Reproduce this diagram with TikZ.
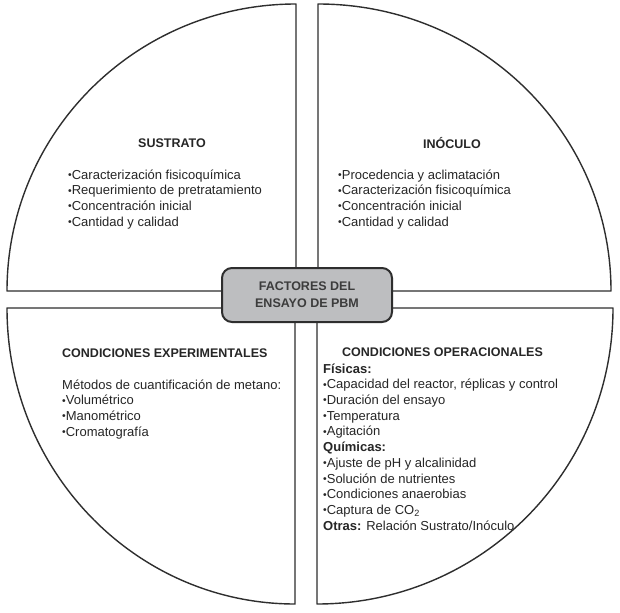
\documentclass[tikz,border=0pt]{standalone}
\usepackage{fontspec}
\setmainfont{Liberation Sans}
\usepackage{graphicx}
\definecolor{linec}{HTML}{2E2E2E}
\definecolor{boxc}{HTML}{BDBEC0}
\definecolor{textc}{HTML}{262626}
\newcommand{\bul}{\raisebox{0.1ex}{\scalebox{0.8}{\textbullet}}}
\begin{document}
\begin{tikzpicture}[x=1pt, y=-1pt, line join=round, line cap=round,
  quad/.style={draw=linec, line width=1.4pt, fill=white},
  title/.style={font=\fontsize{12.5}{15}\selectfont\bfseries, text=textc, inner sep=0pt},
  body/.style={font=\fontsize{13}{15.7}\selectfont, text=textc, align=left, anchor=north west, inner sep=0pt},
  core/.style={draw=linec, line width=2pt, fill=boxc, rounded corners=10pt, minimum width=170pt, minimum height=54pt, align=center, font=\fontsize{12.5}{17}\selectfont\bfseries, text=textc!90!white}]
\useasboundingbox (0,0) rectangle (620,612);
% four quarters
\draw[quad] (296,291) -- (7,291) arc[start angle=180, end angle=270, x radius=289, y radius=287] -- cycle;
\draw[quad] (318,291) -- (318,4) arc[start angle=270, end angle=360, x radius=293, y radius=287] -- cycle;
\draw[quad] (317,308) -- (613,308) arc[start angle=0, end angle=90, x radius=296, y radius=296] -- cycle;
\draw[quad] (295,308) -- (295,604) arc[start angle=90, end angle=180, x radius=288, y radius=296] -- cycle;
% centre
\node[core] (factores) at (307,295) {FACTORES DEL\\ENSAYO DE PBM};
% substrate
\node[title] (sustrato) at (172,143) {SUSTRATO};
\node[body] (sustratolist) at (68,168) {\strut\bul Caracterización fisicoquímica\\
  \bul Requerimiento de pretratamiento\\
  \bul Concentración inicial\\
  \bul Cantidad y calidad};
% inoculum
\node[title] (inoculo) at (452,143) {INÓCULO};
\node[body] (inoculolist) at (338,168) {\strut\bul Procedencia y aclimatación\\
  \bul Caracterización fisicoquímica\\
  \bul Concentración inicial\\
  \bul Cantidad y calidad};
% experimental
\node[title, anchor=west] (experimental) at (62,353) {CONDICIONES EXPERIMENTALES};
\node[body] (experimentallist) at (62,378) {\strut Métodos de cuantificación de metano:\\
  \bul Volumétrico\\
  \bul Manométrico\\
  \bul Cromatografía};
% operational
\node[title, anchor=west] (operacional) at (342,352) {CONDICIONES OPERACIONALES};
\node[body] (operacionallist) at (323,362) {\strut{\bfseries Físicas:}\\
  \bul Capacidad del reactor, réplicas y control\\
  \bul Duración del ensayo\\
  \bul Temperatura\\
  \bul Agitación\\
  {\bfseries Químicas:}\\
  \bul Ajuste de pH y alcalinidad\\
  \bul Solución de nutrientes\\
  \bul Condiciones anaerobias\\
  \bul Captura de CO\textsubscript{2}\\
  {\bfseries Otras:} Relación Sustrato/Inóculo};
\end{tikzpicture}
\end{document}
